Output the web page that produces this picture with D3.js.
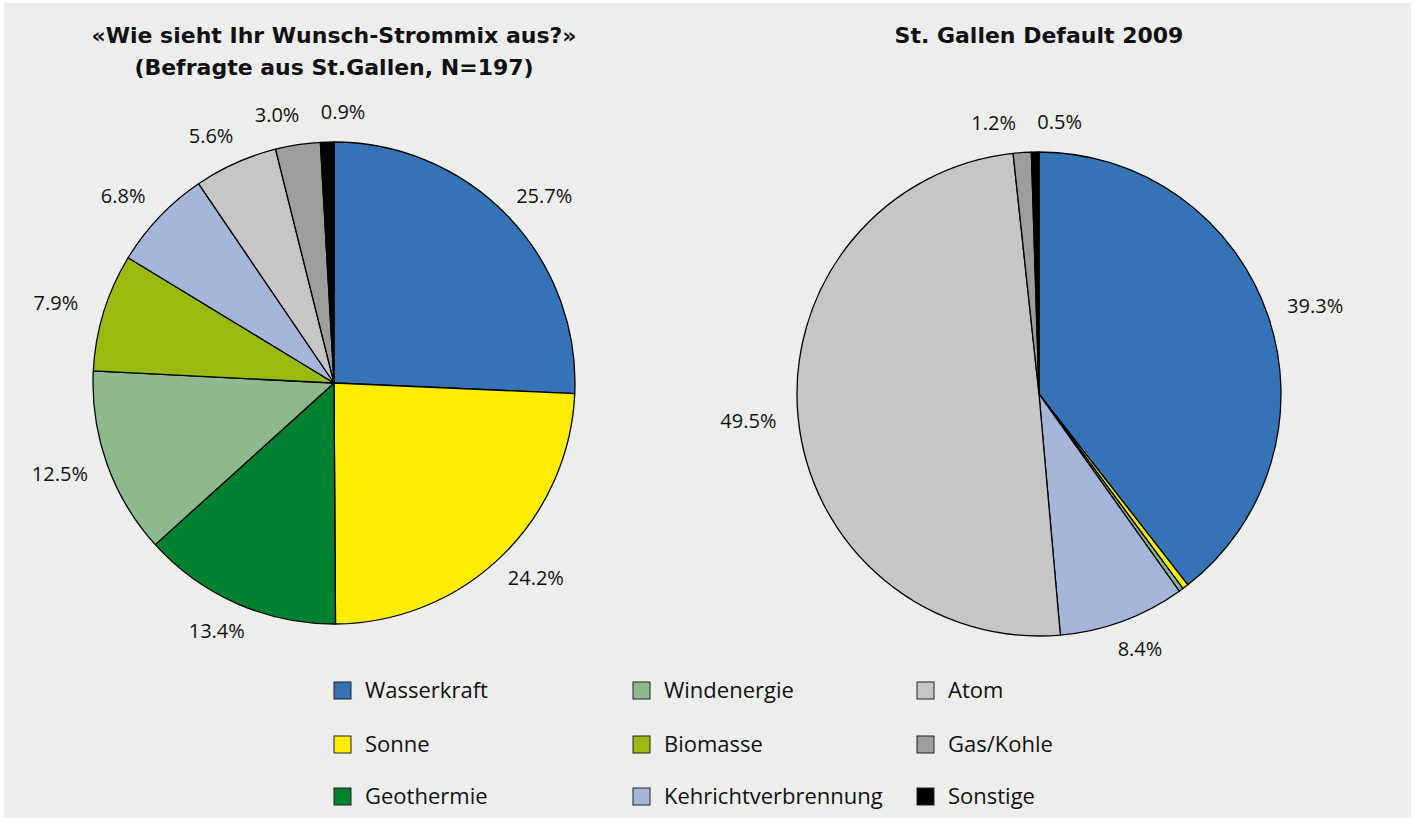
<!DOCTYPE html>
<html>
<head>
<meta charset="utf-8">
<script src="https://cdn.jsdelivr.net/npm/d3@7"></script>
<style>
  body { margin: 0; background: #fff; }
  text { font-family: "Open Sans", Lato, sans-serif; fill: #111; }
</style>
</head>
<body>
<div id="chart-area"></div>
<script>
// categories and colours
const categories = ["Wasserkraft", "Sonne", "Geothermie", "Windenergie", "Biomasse",
    "Kehrichtverbrennung", "Atom", "Gas/Kohle", "Sonstige"];
const colors = ["#3473b5", "#ffed00", "#00812f", "#8cba8c", "#99bb0f",
    "#a6b5da", "#c5c6c8", "#9c9d9f", "#000000"];

// survey (left) and default mix (right), in %
const wunschValues = [25.7, 24.2, 13.4, 12.5, 7.9, 6.8, 5.6, 3.0, 0.9];
const defaultValues = [39.3, 0.4, 0, 0.3, 0, 8.4, 49.5, 1.2, 0.5];

const legendOrder = [
    ["Wasserkraft", "Sonne", "Geothermie"],
    ["Windenergie", "Biomasse", "Kehrichtverbrennung"],
    ["Atom", "Gas/Kohle", "Sonstige"]
];

const svg = d3.select("#chart-area")
    .append("svg")
    .attr("width", 1418)
    .attr("height", 820);

svg.append("rect")
    .attr("x", 4).attr("y", 3)
    .attr("width", 1407).attr("height", 815)
    .attr("fill", "#eceeec");

const color = d3.scaleOrdinal().domain(categories).range(colors);

const pie = d3.pie().sort(null).value(function (d) { return d.value; });

function drawPie(values, cx, cy, r, titleLines) {
    const data = categories.map(function (c, i) { return { name: c, value: values[i] }; });
    const arcs = pie(data);
    const g = svg.append("g").attr("transform", "translate(" + cx + "," + cy + ")");
    const arc = d3.arc().innerRadius(0).outerRadius(r);

    g.selectAll("path")
        .data(arcs.filter(function (d) { return d.data.value > 0; }))
        .enter().append("path")
        .attr("d", arc)
        .attr("fill", function (d) { return color(d.data.name); })
        .attr("stroke", "#000")
        .attr("stroke-width", 1.3)
        .attr("stroke-linejoin", "round");

    // labels: box placed just outside the rim
    const R = r + 18, hw = 32, hh = 12;
    const labels = arcs.filter(function (d) { return d.data.value >= 0.5; }).map(function (d) {
        const a = (d.startAngle + d.endAngle) / 2;
        const s = Math.sin(a), c = Math.cos(a);
        return { text: d.data.value.toFixed(1) + "%", x: R * s + hw * s, y: -R * c - hh * c };
    });
    // push overlapping labels apart horizontally
    for (let k = 0; k < 30; k++) {
        for (let i = 0; i < labels.length; i++) {
            for (let j = i + 1; j < labels.length; j++) {
                const a = labels[i], b = labels[j];
                const dx = b.x - a.x, dy = b.y - a.y;
                if (Math.abs(dy) < 24 && Math.abs(dx) < 66) {
                    const sh = (66 - Math.abs(dx)) / 2 * (dx >= 0 ? 1 : -1);
                    a.x -= sh; b.x += sh;
                }
            }
        }
    }
    g.selectAll("text.lbl")
        .data(labels)
        .enter().append("text")
        .attr("class", "lbl")
        .attr("x", function (d) { return d.x; })
        .attr("y", function (d) { return d.y; })
        .attr("dy", "0.35em")
        .attr("text-anchor", "middle")
        .attr("font-size", 20)
        .text(function (d) { return d.text; });

    svg.selectAll(null)
        .data(titleLines)
        .enter().append("text")
        .attr("x", cx)
        .attr("y", function (d, i) { return 43 + i * 32; })
        .attr("text-anchor", "middle")
        .style("font-family", "'DejaVu Sans', sans-serif")
        .attr("font-size", 22)
        .attr("font-weight", "bold")
        .text(function (d) { return d; });
}

drawPie(wunschValues, 334, 383, 241,
    ["«Wie sieht Ihr Wunsch-Strommix aus?»", "(Befragte aus St.Gallen, N=197)"]);
drawPie(defaultValues, 1039, 394, 242, ["St. Gallen Default 2009"]);

// legend
const colX = [334, 633, 917];
const rowY = [690, 744, 796];
legendOrder.forEach(function (col, ci) {
    const lg = svg.append("g");
    const items = lg.selectAll("g")
        .data(col)
        .enter().append("g")
        .attr("transform", function (d, ri) { return "translate(" + colX[ci] + "," + rowY[ri] + ")"; });
    items.append("rect")
        .attr("x", 0).attr("y", -8)
        .attr("width", 17).attr("height", 17)
        .attr("fill", function (d) { return color(d); })
        .attr("stroke", "#222")
        .attr("stroke-width", 1);
    items.append("text")
        .attr("x", 31)
        .attr("y", 0)
        .attr("dy", "0.36em")
        .attr("font-size", 22)
        .text(function (d) { return d; });
});
</script>
</body>
</html>
